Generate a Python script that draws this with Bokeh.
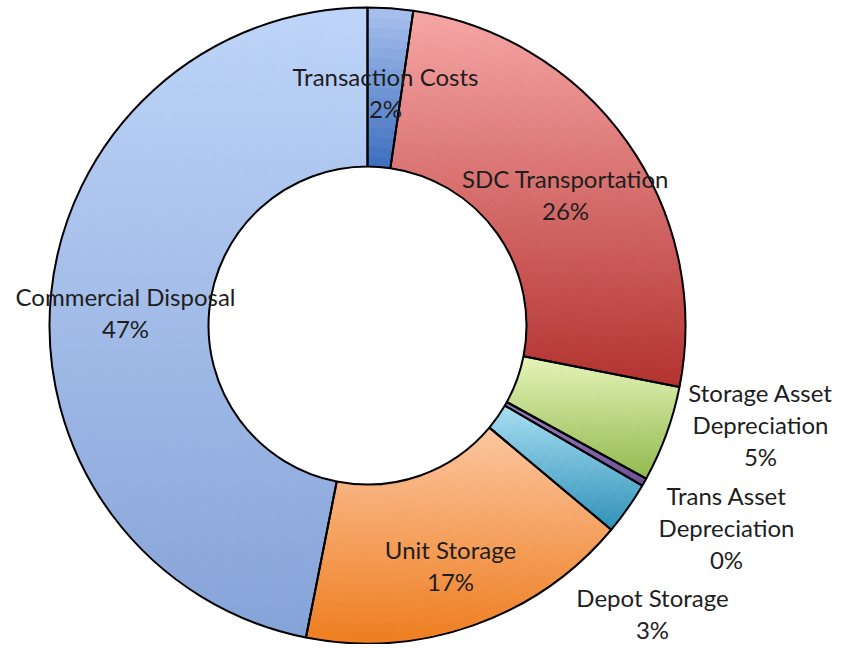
import numpy as np
from bokeh.plotting import figure
from bokeh.models import Range1d, ColumnDataSource
from bokeh.core.properties import value
from bokeh.embed import file_html
from bokeh.resources import INLINE

# ---- data ----
categories = ["Transaction Costs", "SDC Transportation", "Storage Asset Depreciation",
              "Trans Asset Depreciation", "Depot Storage", "Unit Storage", "Commercial Disposal"]
shares = [2.3, 25.8, 4.9, 0.4, 2.7, 17.0, 46.9]
pct_labels = ["2%", "26%", "5%", "0%", "3%", "17%", "47%"]
label_lines = [["Transaction Costs"], ["SDC Transportation"], ["Storage Asset", "Depreciation"],
               ["Trans Asset", "Depreciation"], ["Depot Storage"], ["Unit Storage"],
               ["Commercial Disposal"]]

# ---- styles ----
top_colors = ["#a9c1ee", "#f6a6a6", "#e4f4b8", "#9a82bd", "#a8def2", "#fcc6a0", "#bed4f8"]
bottom_colors = ["#3d6dbf", "#b3322f", "#93b84e", "#6b4f94", "#2f91b8", "#ee7d1f", "#86a3d8"]
label_xy = [(385, 76), (565, 178), (760, 392), (726, 495), (652, 597), (450, 549), (125, 296)]
line_gap = 32

CX, CY = 367, -325
R_OUT, R_IN = 318, 159

W, H = 832, 644
p = figure(width=W, height=H, x_range=Range1d(0, W), y_range=Range1d(-H, 0),
           output_backend="svg", toolbar_location=None, min_border=0,
           background_fill_color="white", border_fill_color="white")
p.axis.visible = False
p.grid.visible = False
p.outline_line_color = None


def hex2rgb(h):
    h = h.lstrip("#")
    return np.array([int(h[i:i + 2], 16) for i in (0, 2, 4)], dtype=float)


def rgb2hex(c):
    return "#%02x%02x%02x" % tuple(int(round(v)) for v in c)


total = float(sum(shares))
cum = np.concatenate([[0], np.cumsum(shares)]) / total

xs_c, ys_c, r_in, r_out, sa, ea, cols = [], [], [], [], [], [], []
n_rad = 16
for i in range(len(shares)):
    a0, a1 = cum[i], cum[i + 1]
    th0 = np.pi / 2 - 2 * np.pi * a1  # start (ccw)
    th1 = np.pi / 2 - 2 * np.pi * a0
    tt = np.linspace(th0, th1, 200)
    ys = np.concatenate([R_OUT * np.sin(tt), R_IN * np.sin(tt)])
    ymax, ymin = ys.max(), ys.min()
    span = max(ymax - ymin, 1e-6)
    n_ang = max(1, int(np.ceil((th1 - th0) / np.radians(1.0))))
    edges = np.linspace(th0, th1, n_ang + 1)
    redges = np.linspace(R_IN, R_OUT, n_rad + 1)
    ctop, cbot = hex2rgb(top_colors[i]), hex2rgb(bottom_colors[i])
    for j in range(n_ang):
        for k in range(n_rad):
            tm = 0.5 * (edges[j] + edges[j + 1])
            rm = 0.5 * (redges[k] + redges[k + 1])
            y = rm * np.sin(tm)
            t = (ymax - y) / span
            c = ctop + (cbot - ctop) * t
            xs_c.append(CX); ys_c.append(CY)
            r_in.append(redges[k]); r_out.append(redges[k + 1])
            sa.append(edges[j]); ea.append(edges[j + 1])
            cols.append(rgb2hex(c))

src = ColumnDataSource(dict(x=xs_c, y=ys_c, ri=r_in, ro=r_out, sa=sa, ea=ea, c=cols))
p.annular_wedge(x="x", y="y", inner_radius="ri", outer_radius="ro", start_angle="sa",
                end_angle="ea", fill_color="c", line_color="c", line_width=1.0, source=src)

# outlines per slice
starts = [np.pi / 2 - 2 * np.pi * cum[i + 1] for i in range(len(shares))]
ends = [np.pi / 2 - 2 * np.pi * cum[i] for i in range(len(shares))]
osrc = ColumnDataSource(dict(x=[CX] * len(shares), y=[CY] * len(shares), sa=starts, ea=ends))
p.annular_wedge(x="x", y="y", inner_radius=R_IN, outer_radius=R_OUT, start_angle="sa",
                end_angle="ea", fill_color=None, line_color="black", line_width=2, source=osrc)

# labels
tx, ty, tt_ = [], [], []
for i, lines in enumerate(label_lines):
    lx, ly = label_xy[i]
    for n, s in enumerate(lines + [pct_labels[i]]):
        tx.append(lx); ty.append(-(ly + n * line_gap)); tt_.append(s)
p.text(x=tx, y=ty, text=tt_, text_align="center", text_baseline="middle",
       text_font=value("Lato"), text_font_size="24px", text_color="#1e1e1e")

open("out.html", "w").write(file_html(p, INLINE))
